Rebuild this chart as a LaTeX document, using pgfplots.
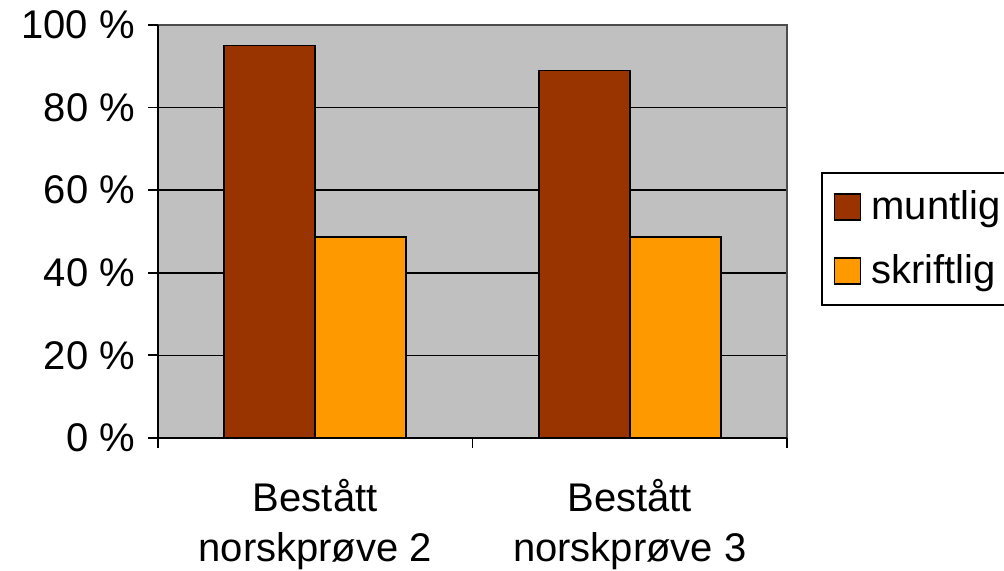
\documentclass[border=0pt]{standalone}
\usepackage{pgfplots}
\pgfplotsset{compat=1.18}
\usepackage{fontspec}
\setmainfont{Liberation Sans}
\definecolor{muntlig}{HTML}{993300}
\definecolor{skriftlig}{HTML}{FF9900}
\definecolor{plotbg}{HTML}{C0C0C0}
\begin{document}
\begin{tikzpicture}
\begin{axis}[
  scale only axis,
  width=314.5pt, height=206.5pt,
  ybar=0pt, bar width=45.5pt,
  xmin=-0.5, xmax=1.5,
  ymin=0, ymax=100,
  axis background/.style={fill=plotbg},
  axis line style={draw=none},
  xtick pos=bottom, ytick pos=left,
  xtick={0,1},
  xticklabels={{Bestått\\norskprøve 2},{Bestått\\norskprøve 3}},
  major x tick style={draw=none},
  minor xtick={-0.5,0.5,1.5},
  minor x tick style={black, line width=0.9pt},
  minor tick length=5pt,
  xticklabel style={align=center, font=\fontsize{20}{25}\selectfont, yshift=-12pt},
  ytick={0,20,...,100},
  yticklabel={\pgfmathprintnumber{\tick}~\%},
  /pgf/number format/assume math mode=true,
  yticklabel style={font=\fontsize{20}{24}\selectfont, xshift=-3pt},
  tick align=outside,
  major tick length=5pt,
  major y tick style={black, line width=0.9pt},
  ymajorgrids=true,
  grid style={black, line width=0.8pt},
  every axis plot/.append style={draw=black, line width=0.8pt},
  legend style={at={(1.054,0.644)}, anchor=north west, draw=black, line width=0.9pt,
    font=\fontsize{20}{24}\selectfont, row sep=12pt, inner xsep=6pt, inner ysep=7pt},
  legend cell align=left,
  legend image code/.code={\draw[#1] (0pt,-6.5pt) rectangle (13pt,6.5pt); \path (16pt,0pt);},
  clip=false,
]
\addplot[fill=muntlig] coordinates {(0,95) (1,89)};
\addplot[fill=skriftlig] coordinates {(0,48.7) (1,48.7)};
\legend{muntlig\hspace{12pt}, skriftlig}
\draw[gray!60!black, line width=0.9pt] (rel axis cs:0,1) -- (rel axis cs:1,1) -- (rel axis cs:1,0);
\draw[black, line width=0.9pt] (rel axis cs:0,1) -- (rel axis cs:0,0) -- (rel axis cs:1,0);
\coordinate (bl) at (rel axis cs:-0.2512,-0.322);
\coordinate (tr) at (rel axis cs:1.345,1.0605);
\end{axis}
\pgfresetboundingbox
\useasboundingbox (bl) rectangle (tr);
\end{tikzpicture}
\end{document}
